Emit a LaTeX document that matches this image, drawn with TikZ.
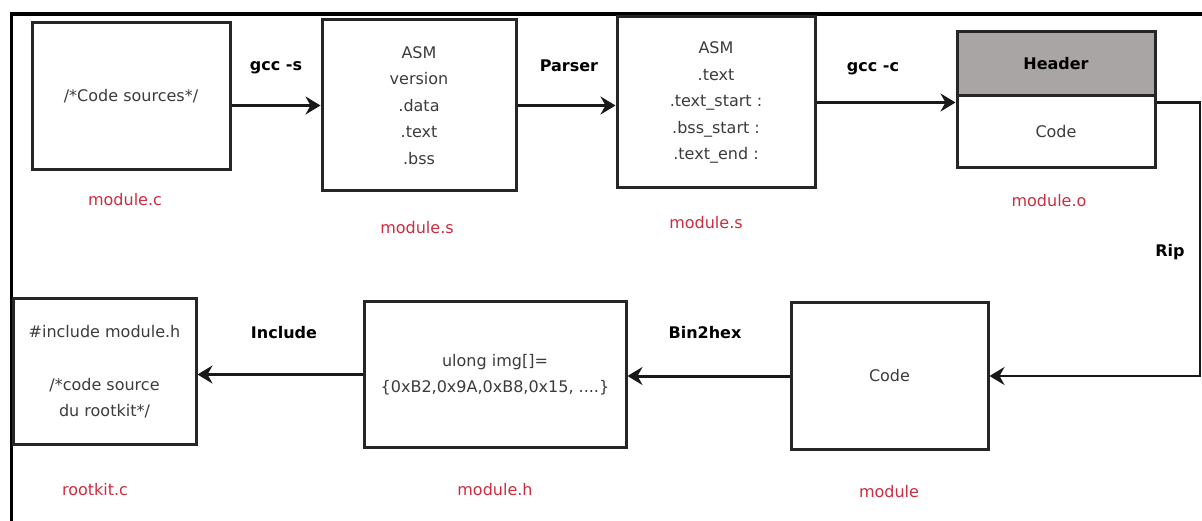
\documentclass[tikz,border=0pt]{standalone}
\usepackage{fontspec}
\setmainfont{DejaVu Sans}
\usetikzlibrary{arrows.meta,calc}
\definecolor{labelred}{RGB}{204,45,65}
\definecolor{headgray}{RGB}{170,165,165}
\definecolor{boxtext}{RGB}{60,60,60}
\begin{document}
\begin{tikzpicture}[x=1pt,y=-1pt,
  box/.style={draw=black!85, line width=3pt, rectangle, inner sep=0pt,
    align=center, text=boxtext, font=\fontsize{16}{26.5}\selectfont},
  flow/.style={draw=black!90, line width=3pt,
    -{Stealth[length=15pt,width=18pt,inset=5pt]}},
  tag/.style={font=\bfseries\fontsize{16}{19}\selectfont, anchor=base, text=black},
  fname/.style={text=labelred, font=\fontsize{16}{19}\selectfont, anchor=base}]
  \useasboundingbox (0,0) rectangle (1202,521);
  \fill[white] (0,0) rectangle (1202,521);

  % outer frame (top and left sides)
  \draw[line width=3.5pt] (11.5,521) -- (11.5,14) -- (1202,14);

  % upper row
  \node[box, minimum width=198pt, minimum height=147pt] (src) at (131,96.5) {/*Code sources*/};
  \node[box, minimum width=194pt, minimum height=171pt] (asm1) at (419,105.5)
    {ASM\\version\\.data\\.text\\.bss};
  \node[box, minimum width=198pt, minimum height=171pt] (asm2) at (716,102.5)
    {ASM\\.text\\.text\_start :\\.bss\_start :\\.text\_end :};
  \node[box, fill=headgray, text=black, font=\bfseries\fontsize{16}{19}\selectfont,
    minimum width=198pt, minimum height=64pt] (hdr) at (1056,64) {Header};
  \node[box, minimum width=198pt, minimum height=72pt] (obj) at (1056,132) {Code};

  % lower row
  \node[box, minimum width=197pt, minimum height=146pt] (bin) at (889.5,376) {Code};
  \node[box, minimum width=262pt, minimum height=145pt] (hex) at (495,374.5)
    {ulong img[]=\\\{0xB2,0x9A,0xB8,0x15, ....\}};
  \node[box, minimum width=183pt, minimum height=145pt] (root) at (104.5,371.5)
    {\#include module.h\\[26.5pt]/*code source\\du rootkit*/};

  % connectors
  \coordinate (ripx) at (1200,0);
  \draw[flow] (src.east |- asm1.west) -- (asm1.west);
  \draw[flow] (asm1.east) -- (asm1.east -| asm2.west);
  \draw[flow] (asm2.east) -- (asm2.east -| obj.west);
  \draw[flow, line width=2.2pt] (asm2.east -| obj.east) -- (asm2.east -| ripx) -- (ripx |- bin.east) -- (bin.east);
  \draw[flow] (bin.west) -- (bin.west -| hex.east);
  \draw[flow] (hex.west) -- (hex.west -| root.east);

  % step labels
  \node[tag] (t1) at (276,71) {gcc -s};
  \node[tag] (t2) at (569,72) {Parser};
  \node[tag] (t3) at (873,72) {gcc -c};
  \node[tag] (t4) at (1170,257) {Rip};
  \node[tag] (t5) at (705,338) {Bin2hex};
  \node[tag] (t6) at (284,338) {Include};

  % file names
  \node[fname] (f1) at (125,206) {module.c};
  \node[fname] (f2) at (417,234) {module.s};
  \node[fname] (f3) at (706,229) {module.s};
  \node[fname] (f4) at (1049,207) {module.o};
  \node[fname] (f5) at (889,497) {module};
  \node[fname] (f6) at (495,495) {module.h};
  \node[fname] (f7) at (95,495) {rootkit.c};
\end{tikzpicture}
\end{document}
